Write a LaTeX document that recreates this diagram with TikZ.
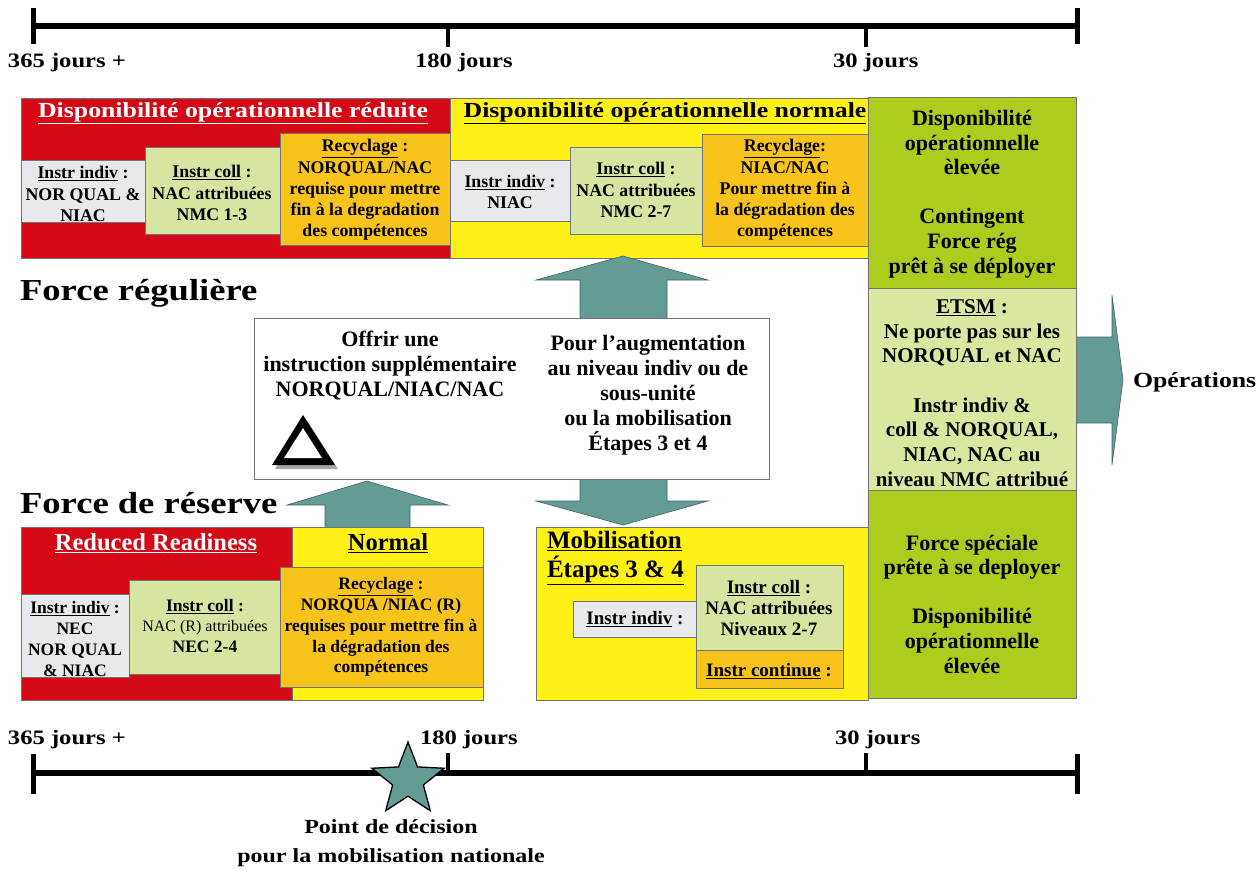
\documentclass[tikz,border=0pt]{standalone}
\usepackage{fontspec}
\setmainfont{Liberation Serif}
\newfontfamily\widefam[FakeStretch=1.2]{Liberation Serif}
\usetikzlibrary{shapes.geometric}

\definecolor{rred}{RGB}{213,8,22}
\definecolor{ryel}{RGB}{255,241,22}
\definecolor{rorg}{RGB}{248,196,28}
\definecolor{rlgr}{RGB}{214,229,162}
\definecolor{rgry}{RGB}{231,233,237}
\definecolor{rgrn}{RGB}{172,204,30}
\definecolor{retsm}{RGB}{217,232,160}
\definecolor{rteal}{RGB}{98,156,148}
\definecolor{redge}{RGB}{115,115,115}

% font sizes (1pt = 1 unit of the drawing grid)
\newcommand\fTime{\widefam\bfseries\fontsize{20.5}{29}\selectfont}
\newcommand\fForce{\widefam\bfseries\fontsize{30.5}{36}\selectfont}
\newcommand\fTitle{\widefam\bfseries\fontsize{21.5}{25}\selectfont}
\newcommand\fInTop{\bfseries\fontsize{17.8}{21.2}\selectfont}
\newcommand\fGreen{\bfseries\fontsize{22}{24.6}\selectfont}
\newcommand\fEtsm{\bfseries\fontsize{21}{24.7}\selectfont}
\newcommand\fMid{\bfseries\fontsize{22}{25}\selectfont}
\newcommand\fBotTitle{\bfseries\fontsize{24.5}{29}\selectfont}
\newcommand\fInBot{\bfseries\fontsize{17.5}{20.8}\selectfont}
\newcommand\fMob{\bfseries\fontsize{25}{29}\selectfont}
\newcommand\fInMob{\bfseries\fontsize{19}{21}\selectfont}

\tikzset{
  blk/.style={draw=redge, line width=0.8pt, inner sep=0pt, outer sep=0pt, anchor=north west},
  lbl/.style={inner sep=0pt, outer sep=0pt, align=center},
  blockarrow/.style={fill=rteal, draw=rteal!65!black, line width=0.6pt, line join=miter},
  timebar/.style={line width=6.5pt},
  endtick/.style={line width=5pt},
  midtick/.style={line width=4pt},
}

\begin{document}
\begin{tikzpicture}[x=1pt,y=-1pt]
\useasboundingbox (0,0) rectangle (1259,871);

% ---------- top time line ----------
\draw[timebar] (33,26) -- (1077,26);
\draw[endtick] (33,8) -- (33,44);
\draw[endtick] (1077,8) -- (1077,44);
\draw[midtick] (448,26) -- (448,47);
\draw[midtick] (866,26) -- (866,47);
\node[lbl, font=\fTime, anchor=west] (tA365) at (8,63) {365 jours +};
\node[lbl, font=\fTime, anchor=west] (tA180) at (415,63) {180 jours};
\node[lbl, font=\fTime, anchor=west] (tA30) at (833,63) {30 jours};

% ---------- regular force blocks ----------
\node[blk, fill=rred, minimum width=429pt, minimum height=160pt] (redT) at (21,98) {};
\node[blk, fill=ryel, minimum width=418pt, minimum height=160pt] (yelT) at (450,98) {};
\node[blk, fill=rgry, minimum width=124pt, minimum height=62pt] (indT1) at (21,160) {};
\node[blk, fill=rlgr, minimum width=135pt, minimum height=87pt] (colT1) at (145,147) {};
\node[blk, fill=rorg, minimum width=170pt, minimum height=112pt] (recT1) at (280,133) {};
\node[blk, fill=rgry, minimum width=120pt, minimum height=61pt] (indT2) at (450,160) {};
\node[blk, fill=rlgr, minimum width=132pt, minimum height=87pt] (colT2) at (570,147) {};
\node[blk, fill=rorg, minimum width=166pt, minimum height=112pt] (recT2) at (702,134) {};

\node[lbl, font=\fTitle, text=white] (ttlT1) at (233,113) {\underline{Disponibilité opérationnelle réduite}};
\node[lbl, font=\fTitle] (ttlT2) at (665,113) {\underline{Disponibilité opérationnelle normale}};

\node[lbl, font=\fInTop] (xindT1) at (83,194) {\underline{Instr indiv} :\\NOR QUAL \&\\NIAC};
\node[lbl, font=\fInTop] (xcolT1) at (212,193) {\underline{Instr coll} :\\NAC attribuées\\NMC 1-3};
\node[lbl, font=\fInTop] (xrecT1) at (365,190) {\underline{Recyclage} :\\NORQUAL/NAC\\requise pour mettre\\fin à la degradation\\des compétences};
\node[lbl, font=\fInTop] (xindT2) at (510,192) {\underline{Instr indiv} :\\NIAC};
\node[lbl, font=\fInTop] (xcolT2) at (636,190) {\underline{Instr coll} :\\NAC attribuées\\NMC 2-7};
\node[lbl, font=\fInTop] (xrecT2) at (785,190) {\underline{Recyclage}:\\NIAC/NAC\\Pour mettre fin à\\la dégradation des\\compétences};

% ---------- high readiness column ----------
\draw[blockarrow] (1076,337) -- (1112,337) -- (1112,295) -- (1123,380) -- (1112,465) -- (1112,423) -- (1076,423);
\node[blk, fill=rgrn, minimum width=208pt, minimum height=191pt] (grnA) at (868,97) {};
\node[blk, fill=retsm, minimum width=208pt, minimum height=202pt] (etsm) at (868,288) {};
\node[blk, fill=rgrn, minimum width=208pt, minimum height=208pt] (grnB) at (868,490) {};

\node[lbl, font=\fGreen] (xgrnA) at (972,194) {Disponibilité\\opérationnelle\\èlevée\\[24.6pt]Contingent\\Force rég\\prêt à se déployer};
\node[lbl, font=\fEtsm] (xetsm) at (972,393) {\underline{ETSM} :\\Ne porte pas sur les\\NORQUAL et NAC\\[24.7pt]Instr indiv \&\\coll \& NORQUAL,\\NIAC, NAC au\\niveau NMC attribué};
\node[lbl, font=\fGreen] (xgrnB) at (972,604) {Force spéciale\\prête à se deployer\\[24.6pt]Disponibilité\\opérationnelle\\élevée};

\node[lbl, font=\fTitle, anchor=west] (ops) at (1133,382) {Opérations};

% ---------- link arrows ----------
\draw[blockarrow] (580,318) -- (580,280) -- (536,280) -- (623,256) -- (708,280) -- (667,280) -- (667,318);
\draw[blockarrow] (580,479) -- (580,501) -- (536,501) -- (623,525) -- (708,501) -- (667,501) -- (667,479);
\draw[blockarrow] (325,527) -- (325,505) -- (287,505) -- (367,481) -- (448,505) -- (410,505) -- (410,527);

% ---------- central box ----------
\node[blk, fill=white, minimum width=515pt, minimum height=161pt] (mid) at (254,318) {};
\node[lbl, font=\fMid] (xmidL) at (390,366) {Offrir une\\instruction supplémentaire\\NORQUAL/NIAC/NAC};
\node[lbl, font=\fMid] (xmidR) at (648,395) {Pour l’augmentation\\au niveau indiv ou de\\sous-unité\\ou la mobilisation\\Étapes 3 et 4};
% warning triangle
\fill[black!35] (306,419) -- (275,469) -- (338,469) -- cycle;
\fill[black] (303,415) -- (272,465) -- (335,465) -- cycle;
\fill[white] (303,428) -- (284,458) -- (322,458) -- cycle;

\node[lbl, font=\fForce, anchor=west] (frcReg) at (20,293) {Force régulière};
\node[lbl, font=\fForce, anchor=west] (frcRes) at (20,503) {Force de réserve};

% ---------- reserve force blocks ----------
\node[blk, fill=rred, minimum width=271pt, minimum height=173pt] (redB) at (21,527) {};
\node[blk, fill=ryel, minimum width=191pt, minimum height=173pt] (yelB) at (292,527) {};
\node[blk, fill=rgry, minimum width=108pt, minimum height=83pt] (indB) at (21,594) {};
\node[blk, fill=rlgr, minimum width=151pt, minimum height=94pt] (colB) at (129,580) {};
\node[blk, fill=rorg, minimum width=203pt, minimum height=120pt] (recB) at (280,567) {};

\node[lbl, font=\fBotTitle, text=white] (ttlB1) at (156,543) {\underline{Reduced Readiness}};
\node[lbl, font=\fBotTitle] (ttlB2) at (388,543) {\underline{Normal}};

\node[lbl, font=\fInBot] (xindB) at (75,639) {\underline{Instr indiv} :\\NEC\\NOR QUAL\\\& NIAC};
\node[lbl, font=\fInBot] (xcolB) at (205,626) {\underline{Instr coll} :\\{\mdseries\fontsize{16}{18.5}\selectfont NAC (R) attribuées}\\NEC 2-4};
\node[lbl, font=\fInBot] (xrecB) at (381,627) {\underline{Recyclage} :\\NORQUA /NIAC (R)\\requises pour mettre fin à\\la dégradation des\\compétences};

% mobilisation block
\node[blk, fill=ryel, minimum width=332pt, minimum height=173pt] (mobB) at (536,527) {};
\node[blk, fill=rgry, minimum width=124pt, minimum height=36pt] (indM) at (573,601) {};
\node[blk, fill=rlgr, minimum width=147pt, minimum height=85pt] (colM) at (696,565) {};
\node[blk, fill=rorg, minimum width=147pt, minimum height=38pt] (contM) at (696,650) {};
\node[lbl, font=\fMob, align=left, anchor=west] (ttlM) at (547,558) {\underline{Mobilisation}\\\underline{Étapes 3 \& 4}};
\node[lbl, font=\fInMob] (xindM) at (635,619) {\underline{Instr indiv} :};
\node[lbl, font=\fInMob] (xcolM) at (769,608) {\underline{Instr coll} :\\NAC attribuées\\Niveaux 2-7};
\node[lbl, font=\fInMob] (xcontM) at (769,671) {\underline{Instr continue} :};

% ---------- bottom time line ----------
\node[lbl, font=\fTime, anchor=west] (tB365) at (8,740) {365 jours +};
\node[lbl, font=\fTime, anchor=west] (tB180) at (420,740) {180 jours};
\node[lbl, font=\fTime, anchor=west] (tB30) at (835,740) {30 jours};
\draw[timebar] (33,773) -- (1077,773);
\draw[endtick] (33,754) -- (33,794);
\draw[endtick] (1077,754) -- (1077,794);
\draw[midtick] (448,753) -- (448,773);
\draw[midtick] (866,753) -- (866,773);
\node[star, star points=5, star point ratio=2.35, minimum size=76pt, inner sep=0pt,
      fill=rteal, draw=black, line width=1.3pt] (decision) at (408,780) {};
\node[lbl, font=\widefam\bfseries\fontsize{20}{29}\selectfont] (xdecision) at (391,843)
  {Point de décision\\pour la mobilisation nationale};
\end{tikzpicture}
\end{document}
